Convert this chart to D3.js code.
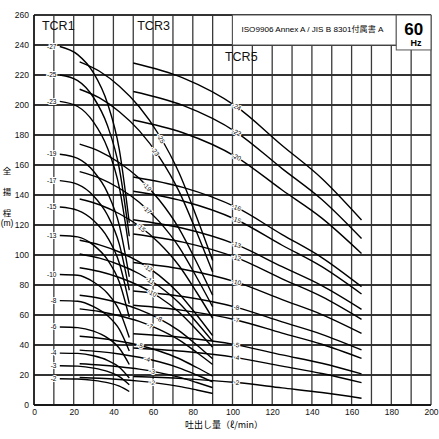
<!DOCTYPE html>
<html>
<head>
<meta charset="utf-8">
<script src="https://cdn.jsdelivr.net/npm/d3@7"></script>
<style>
  body { margin: 0; background: #fff; }
  svg { font-family: "Liberation Sans", Arial, sans-serif; }
</style>
</head>
<body>
<div id="chart"></div>
<script>
// axis ticks
const xTicks = [0, 20, 40, 60, 80, 100, 120, 140, 160, 180, 200];
const yTicks = [0, 20, 40, 60, 80, 100, 120, 140, 160, 180, 200, 220, 240, 260];
const xGrid = [0, 10, 20, 30, 40, 50, 60, 70, 80, 90, 100, 110, 120, 130, 140, 150, 160, 170, 180, 190, 200];

// TCR1 family (flow l/min, head m)
const tcr1Q = [13, 22, 30, 37, 43, 48];
const tcr1Stages = [27, 25, 23, 19, 17, 15, 13, 10, 8, 6, 4, 3, 2];
const tcr1Head = [
    [239, 233.6, 221.4, 201.2, 170.1, 121.5],
    [220, 216.3, 205, 186.3, 157.5, 112.5],
    [202.4, 199, 188.6, 171.4, 144.9, 103.5],
    [167.2, 164.4, 155.8, 141.6, 119.7, 85.5],
    [149.6, 147.1, 139.4, 126.7, 107.1, 76.5],
    [132, 129.8, 123, 111.8, 94.5, 67.5],
    [113, 112.1, 106.6, 96.9, 81.9, 58.5],
    [87, 86.5, 82, 74.5, 63, 45],
    [69.6, 69.2, 65.6, 59.6, 50.4, 36],
    [52, 51.6, 49.2, 44.7, 37.8, 27],
    [34.6, 34.4, 32.8, 29.8, 25.2, 18],
    [26.2, 25.9, 24.6, 22.4, 18.9, 13.5],
    [17.5, 17.3, 16.4, 14.9, 12.6, 9]
];

// TCR3 family
const tcr3Q = [23, 33, 43, 53, 63, 73, 82, 90];
const tcr3Stages = [25, 23, 19, 17, 15, 12, 11, 10, 8, 7, 5, 4, 3, 2];
const tcr3Head = [
    [228.8, 222.5, 212.5, 198.8, 180, 155, 125, 96.3],
    [210.5, 204.7, 195.5, 182.9, 165.6, 142.6, 115, 88.6],
    [173.9, 169.1, 161.5, 151.1, 136.8, 117.8, 95, 73.2],
    [155.6, 151.3, 144.5, 135.2, 122.4, 105.4, 85, 65.5],
    [137.3, 133.5, 127.5, 119.3, 108, 93, 75, 57.8],
    [109.8, 106.8, 102, 95.4, 86.4, 74.4, 60, 46.2],
    [100.7, 97.9, 93.5, 87.5, 79.2, 68.2, 55, 42.4],
    [91.5, 89, 85, 79.5, 72, 62, 50, 38.5],
    [73.2, 71.2, 68, 63.6, 57.6, 49.6, 40, 30.8],
    [64.1, 62.3, 59.5, 55.7, 50.4, 43.4, 35, 27],
    [45.8, 44.5, 42.5, 39.8, 36, 31, 25, 19.3],
    [36.6, 35.6, 34, 31.8, 28.8, 24.8, 20, 15.4],
    [27.5, 26.7, 25.5, 23.9, 21.6, 18.6, 15, 11.6],
    [18.3, 17.8, 17, 15.9, 14.4, 12.4, 10, 7.7]
];
const tcr3LabelQ = [64, 61, 57, 57, 54, 57.5, 58.5, 59.5, 63, 58.5, 53.5, 57, 59.5, 59.5];

// TCR5 family
const tcr5Q = [50, 75, 102, 125, 145, 165];
const tcr5Stages = [24, 22, 20, 16, 15, 13, 12, 10, 8, 7, 5, 4, 2];
const tcr5Head = [
    [228, 218.1, 198.9, 173, 151, 123.3],
    [209, 199.7, 181.8, 157.6, 137, 111],
    [190, 181.5, 165.3, 143.3, 124.6, 101],
    [152, 145.1, 131.7, 113.6, 98.3, 78.9],
    [142.5, 136, 123.5, 106.5, 92.2, 74],
    [123.5, 117.8, 106.9, 92.2, 79.6, 63.8],
    [114, 108.6, 98.2, 84.1, 72.2, 57.1],
    [95, 90.5, 81.9, 70.2, 60.3, 47.8],
    [76, 72.3, 65.1, 55.4, 47.1, 36.7],
    [66.5, 63.1, 56.7, 47.9, 40.5, 31.1],
    [47.5, 45, 40.1, 33.4, 27.8, 20.7],
    [38, 35.8, 31.6, 25.9, 21, 14.9],
    [19, 17.6, 15, 11.4, 8.3, 4.5]
];
const tcr5LabelQ = 102;

const W = 439, H = 439;
const margin = { top: 15, right: 8, bottom: 34, left: 34 };
const width = W - margin.left - margin.right;
const height = H - margin.top - margin.bottom;

const svg = d3.select('#chart').append('svg')
    .attr('width', W)
    .attr('height', H);

const g = svg.append('g')
    .attr('transform', `translate(${margin.left},${margin.top})`);

const x = d3.scaleLinear().domain([0, 200]).range([0, width]);
const y = d3.scaleLinear().domain([0, 260]).range([height, 0]);

// grid
g.append('g').selectAll('line.vg')
    .data(xGrid)
    .join('line')
    .attr('x1', d => x(d)).attr('x2', d => x(d))
    .attr('y1', 0).attr('y2', height)
    .attr('stroke', '#3a3a3a')
    .attr('stroke-width', 1.3);

g.append('g').selectAll('line.hg')
    .data(yTicks)
    .join('line')
    .attr('x1', 0).attr('x2', width)
    .attr('y1', d => y(d)).attr('y2', d => y(d))
    .attr('stroke', '#333')
    .attr('stroke-width', 2);

// axes (labels only)
const xAxis = g.append('g')
    .attr('transform', `translate(0,${height})`)
    .call(d3.axisBottom(x).tickValues(xTicks).tickSize(0).tickPadding(4));
const yAxis = g.append('g')
    .call(d3.axisLeft(y).tickValues(yTicks).tickSize(0).tickPadding(5));
[xAxis, yAxis].forEach(a => {
    a.select('.domain').remove();
    a.selectAll('text').style('font-size', '8.5px').attr('fill', '#111')
        .style('font-family', '"Liberation Sans", Arial, sans-serif');
});

// axis frame
g.append('line').attr('x1', 0).attr('x2', 0).attr('y1', 0).attr('y2', height)
    .attr('stroke', '#111').attr('stroke-width', 1.5);
g.append('line').attr('x1', 0).attr('x2', width).attr('y1', height).attr('y2', height)
    .attr('stroke', '#111').attr('stroke-width', 1.5);

// header boxes
g.append('rect')
    .attr('x', x(100)).attr('y', y(260))
    .attr('width', x(182.5) - x(100)).attr('height', y(240) - y(260))
    .attr('fill', '#fff').attr('stroke', '#555').attr('stroke-width', 1);
g.append('rect')
    .attr('x', x(182.5)).attr('y', y(260))
    .attr('width', x(200) - x(182.5)).attr('height', y(236.7) - y(260))
    .attr('fill', '#fff').attr('stroke', '#555').attr('stroke-width', 1);
g.append('text')
    .attr('x', x(104.5)).attr('y', y(248.5))
    .attr('textLength', 142).attr('lengthAdjust', 'spacingAndGlyphs')
    .style('font-size', '7.5px')
    .style('font-family', '"Liberation Sans", "Noto Sans CJK JP", sans-serif')
    .text('ISO9906  Annex A / JIS B 8301付属書 A');
g.append('text')
    .attr('x', x(191.3)).attr('y', y(247))
    .attr('text-anchor', 'middle')
    .style('font-size', '17px').style('font-weight', 'bold')
    .text('60');
g.append('text')
    .attr('x', x(192.5)).attr('y', y(239.2))
    .attr('text-anchor', 'middle')
    .style('font-size', '9px').style('font-weight', 'bold')
    .text('Hz');

// family titles
const titles = [
    { t: 'TCR1', q: 4, h: 250 },
    { t: 'TCR3', q: 52, h: 250 },
    { t: 'TCR5', q: 96.2, h: 229.2 }
];
g.append('g').selectAll('text')
    .data(titles)
    .join('text')
    .attr('x', d => x(d.q)).attr('y', d => y(d.h))
    .style('font-size', '12.5px')
    .attr('fill', '#111')
    .text(d => d.t);

const line = d3.line()
    .x(d => x(d[0]))
    .y(d => y(d[1]))
    .curve(d3.curveMonotoneX);

function drawFamily(qs, heads) {
    g.append('g').selectAll('path')
        .data(heads.map(hs => hs.map((h, i) => [qs[i], h])))
        .join('path')
        .attr('d', line)
        .attr('fill', 'none')
        .attr('stroke', '#000')
        .attr('stroke-width', 1.4);
}

drawFamily(tcr1Q, tcr1Head);
drawFamily(tcr3Q, tcr3Head);
drawFamily(tcr5Q, tcr5Head);

// point on curve + direction, for label placement
function along(qs, hs, q) {
    let i = 0;
    while (i < qs.length - 2 && q > qs[i + 1]) i++;
    const t = (q - qs[i]) / (qs[i + 1] - qs[i]);
    const h = hs[i] + t * (hs[i + 1] - hs[i]);
    const ang = Math.atan2(y(hs[i + 1]) - y(hs[i]), x(qs[i + 1]) - x(qs[i])) * 180 / Math.PI;
    return { px: x(q), py: y(h), ang };
}

function curveLabels(qs, heads, stages, labelQ) {
    g.append('g').selectAll('text')
        .data(stages.map((s, i) => ({ s, p: along(qs, heads[i], Array.isArray(labelQ) ? labelQ[i] : labelQ) })))
        .join('text')
        .attr('transform', d => `translate(${d.p.px},${d.p.py}) rotate(${d.p.ang})`)
        .attr('text-anchor', 'middle')
        .attr('dy', '0.35em')
        .style('font-size', '6.5px')
        .attr('stroke', '#fff').attr('stroke-width', 2.2)
        .attr('paint-order', 'stroke')
        .attr('fill', '#000')
        .text(d => '-' + d.s);
}

curveLabels(tcr3Q, tcr3Head, tcr3Stages, tcr3LabelQ);
curveLabels(tcr5Q, tcr5Head, tcr5Stages, tcr5LabelQ);

// TCR1 labels sit left of curve start
g.append('g').selectAll('text')
    .data(tcr1Stages.map((s, i) => ({ s, h: tcr1Head[i][0] })))
    .join('text')
    .attr('x', x(11.3)).attr('y', d => y(d.h))
    .attr('text-anchor', 'end')
    .attr('dy', '0.35em')
    .style('font-size', '6.5px')
    .attr('stroke', '#fff').attr('stroke-width', 2.2)
    .attr('paint-order', 'stroke')
    .text(d => '-' + d.s);

// axis titles
const jp = '"Noto Sans CJK JP", sans-serif';
const yTitle = ['全', '揚', '程'];
svg.append('g').selectAll('text')
    .data(yTitle)
    .join('text')
    .attr('x', 7).attr('y', (d, i) => 174 + i * 21)
    .attr('text-anchor', 'middle')
    .style('font-size', '8.5px').style('font-family', jp)
    .text(d => d);
svg.append('text')
    .attr('x', 7).attr('y', 226)
    .attr('text-anchor', 'middle')
    .style('font-size', '8.5px')
    .text('(m)');
svg.append('text')
    .attr('x', 224).attr('y', 428)
    .attr('text-anchor', 'middle')
    .style('font-size', '9px').style('font-family', jp)
    .text('吐出し量（ℓ/min）');
</script>
</body>
</html>
